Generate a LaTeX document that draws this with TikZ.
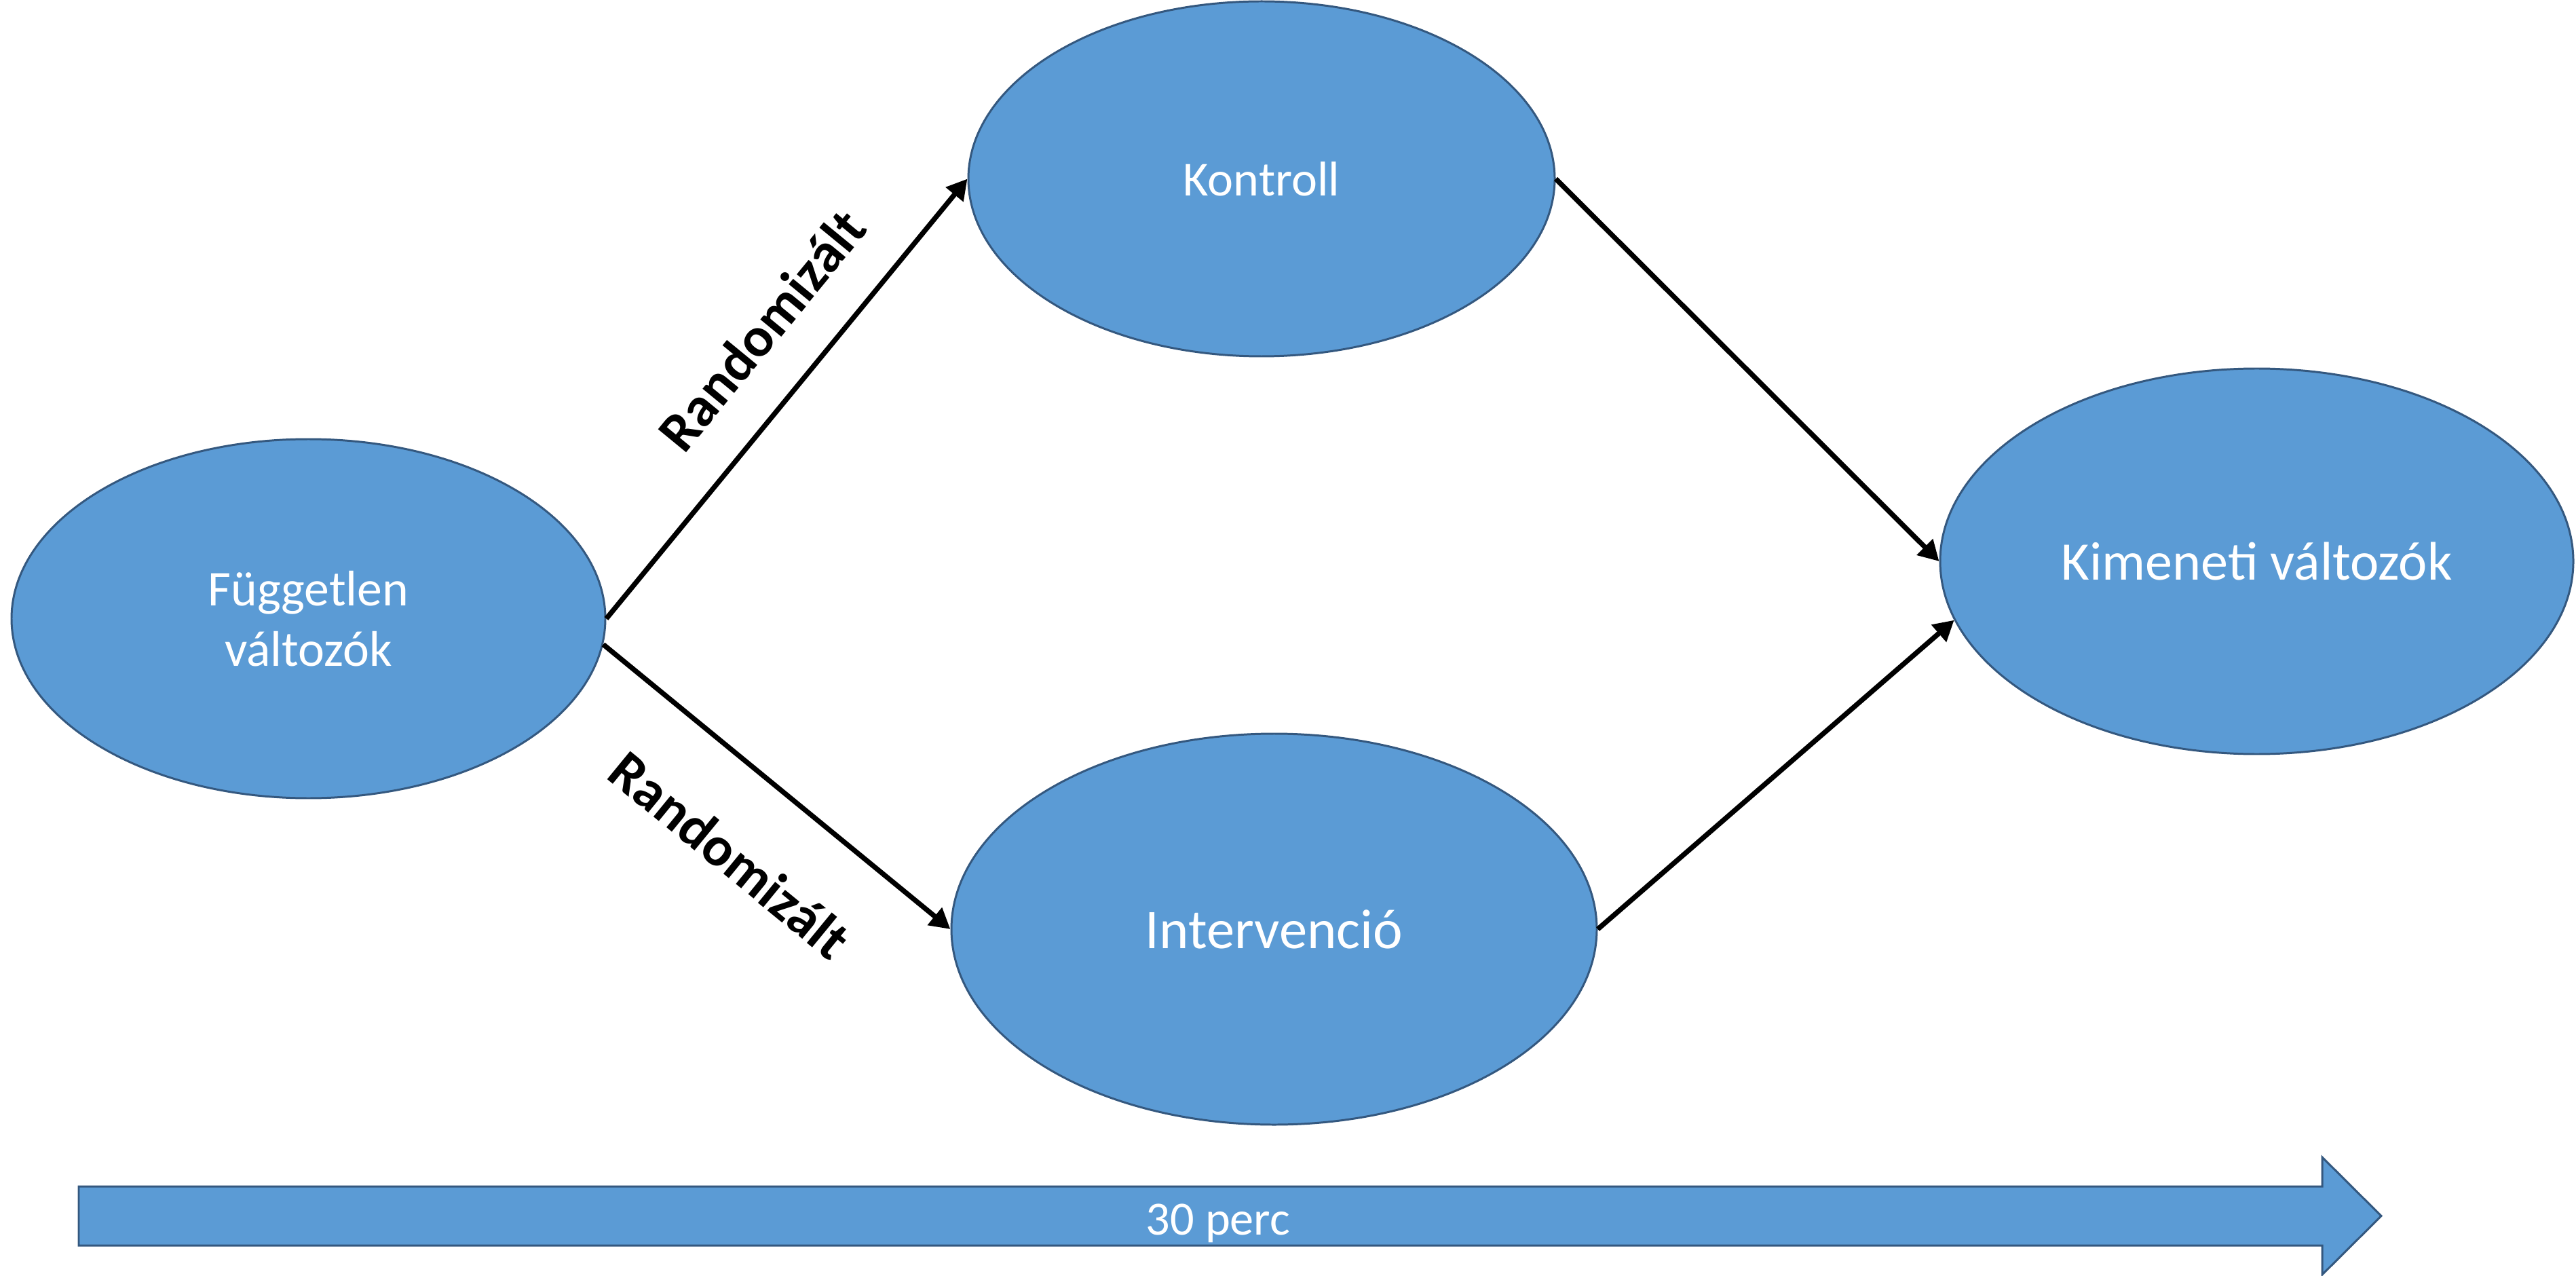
\documentclass[tikz,border=0pt]{standalone}
\usepackage{fontspec}
\setmainfont{Carlito}
\usepackage{tikz}
\usetikzlibrary{arrows.meta,shapes.geometric,positioning}
\definecolor{kek}{HTML}{5B9BD5}
\definecolor{kekszel}{HTML}{34587F}
\tikzstyle{simple}=[ellipse, draw=kekszel, fill=kek, line width=0.85pt, inner sep=0, text=white, align=center]
\tikzstyle{nyil}=[-{Triangle[length=0.3cm,width=0.32cm]}, line width=2.1pt]
\tikzstyle{cimke}=[inner sep=0, font=\fontsize{23.5}{28}\selectfont\bfseries]

\begin{document}
\begin{tikzpicture}
	\useasboundingbox (0,0) rectangle (37.96,-18.80);
	\node[simple,minimum width=8.75cm,minimum height=5.29cm,font=\fontsize{21}{25.3}\selectfont](fugg) at (4.545,-9.115) {Független\\változók};
	\node[simple,minimum width=8.64cm,minimum height=5.23cm,font=\fontsize{20.5}{24}\selectfont](kontroll) at (18.59,-2.635) {Kontroll};
	\node[simple,minimum width=9.51cm,minimum height=5.76cm,font=\fontsize{23.5}{28}\selectfont](interv) at (18.775,-13.69) {Intervenció};
	\node[simple,minimum width=9.33cm,minimum height=5.68cm,font=\fontsize{22.8}{27}\selectfont](kimen) at (33.255,-8.27) {Kimeneti változók};
	
	\draw[nyil] (fugg.east) -- node[cimke,sloped,above=0.6cm,pos=0.565]{Randomizált} (kontroll.west);
	\draw[nyil] (fugg.-5) -- node[cimke,sloped,below=0.88cm,pos=0.515]{Randomizált} (interv.west);
	\draw[nyil] (kontroll.east) -- (kimen.west);
	\draw[nyil] (interv.east) -- (kimen.191);
	
	% idotengely
	\draw[draw=kekszel,fill=kek,line width=0.85pt] (1.16,-17.48) -- (34.22,-17.48) -- (34.22,-17.05) -- (35.09,-17.915) -- (34.22,-18.78) -- (34.22,-18.35) -- (1.16,-18.35) -- cycle;
	\node[text=white,font=\fontsize{20}{24}\selectfont](ido) at (17.95,-18.02) {30 perc};
\end{tikzpicture}
\end{document}
